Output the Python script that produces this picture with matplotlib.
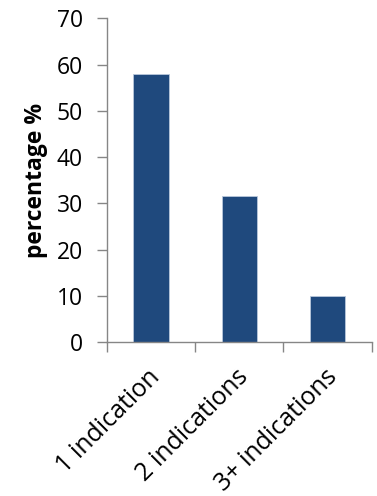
import matplotlib.pyplot as plt
import numpy as np
from matplotlib.transforms import ScaledTranslation

categories = ['1 indication', '2 indications', '3+ indications']
percentages = [58, 31.7, 10]

plt.rcParams['font.family'] = ['Open Sans', 'DejaVu Sans']

fig = plt.figure(figsize=(3.77, 4.96), dpi=100)
ax = fig.add_axes([0.283, 0.310, 0.703, 0.653])

x = np.arange(len(categories))
ax.bar(x, percentages, width=0.4, color='#1F497D', edgecolor='#B9C7DB', linewidth=0.6, zorder=2)

ax.set_xlim(-0.5, len(categories) - 0.5)
ax.set_ylim(0, 70)
ax.set_yticks(range(0, 71, 10))
ax.tick_params(axis='y', labelsize=16.5, length=7, width=1, color='#868686', pad=10)

# category labels on major ticks, tick marks between categories
ax.set_xticks(x)
ax.set_xticklabels(categories, rotation=45, ha='right', rotation_mode='anchor', fontsize=18)
ax.tick_params(axis='x', which='major', length=0, pad=16)
shift = ScaledTranslation(-3 / 100, 0, fig.dpi_scale_trans)
for lbl in ax.get_xticklabels():
    lbl.set_transform(lbl.get_transform() + shift)
ax.set_xticks(np.arange(-0.5, len(categories), 1), minor=True)
ax.tick_params(axis='x', which='minor', length=7, width=1, color='#868686')

for side in ['top', 'right']:
    ax.spines[side].set_visible(False)
for side in ['left', 'bottom']:
    ax.spines[side].set_color('#868686')
    ax.spines[side].set_linewidth(1)

ax.set_ylabel('percentage %', fontsize=16.5, fontweight='bold', labelpad=6)

fig.savefig('out.png', dpi=100)
